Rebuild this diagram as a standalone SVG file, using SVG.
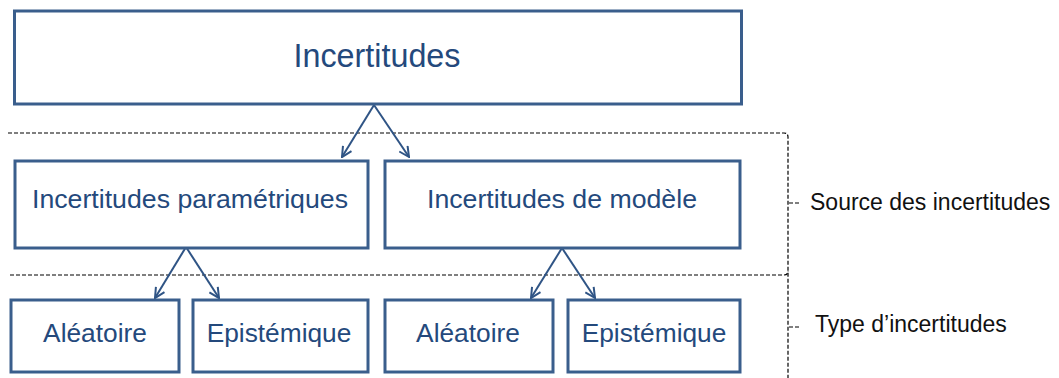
<svg xmlns="http://www.w3.org/2000/svg" width="1059" height="378" viewBox="0 0 1059 378">
<style>
.box{fill:#fff;stroke:#3a5e8c;stroke-width:3}
.lbl{font-family:"Liberation Sans",Arial,sans-serif;fill:#24497c;text-anchor:middle}
.conn{stroke:#2f5485;stroke-width:2;fill:none}
.dash{stroke:#000;stroke-width:1.2;fill:none;stroke-dasharray:4 2}
.side{font-family:"Liberation Sans",Arial,sans-serif;fill:#111;font-size:23px}
</style>
<defs>
<marker id="arr" viewBox="0 0 12 12" refX="11" refY="6" markerWidth="12" markerHeight="12" markerUnits="userSpaceOnUse" orient="auto">
<path d="M1,1 L11,6 L1,11" fill="none" stroke="#2f5485" stroke-width="2"/>
</marker>
</defs>
<g id="brackets">
<path class="dash" d="M8,133 H784 Q788,133 788,137 V378"/>
<path class="dash" d="M10,275 H784 Q788,275 788,271"/>
<path class="dash" d="M789,203 H801"/>
<path class="dash" d="M789,327 H801"/>
</g>
<g id="connectors">
<line class="conn" x1="374" y1="105" x2="342" y2="157" marker-end="url(#arr)"/>
<line class="conn" x1="374" y1="105" x2="409" y2="157" marker-end="url(#arr)"/>
<line class="conn" x1="186" y1="247" x2="155" y2="298" marker-end="url(#arr)"/>
<line class="conn" x1="186" y1="247" x2="219" y2="298" marker-end="url(#arr)"/>
<line class="conn" x1="562" y1="248" x2="531" y2="298" marker-end="url(#arr)"/>
<line class="conn" x1="562" y1="248" x2="595" y2="298" marker-end="url(#arr)"/>
</g>
<g id="incertitudes">
<rect class="box" x="14.5" y="11" width="727" height="93"/>
<text class="lbl" x="377" y="67" font-size="32.3">Incertitudes</text>
</g>
<g id="parametriques">
<rect class="box" x="15" y="161" width="353" height="87"/>
<text class="lbl" x="190" y="208" font-size="26.7">Incertitudes paramétriques</text>
</g>
<g id="modele">
<rect class="box" x="385" y="161" width="355" height="87"/>
<text class="lbl" x="562" y="208" font-size="26.7">Incertitudes de modèle</text>
</g>
<g id="aleatoire1">
<rect class="box" x="11" y="300" width="168" height="72"/>
<text class="lbl" x="95" y="342" font-size="26.3">Aléatoire</text>
</g>
<g id="epistemique1">
<rect class="box" x="193" y="300" width="175" height="72"/>
<text class="lbl" x="279" y="342" font-size="26.3">Epistémique</text>
</g>
<g id="aleatoire2">
<rect class="box" x="385" y="300" width="168" height="72"/>
<text class="lbl" x="468" y="342" font-size="26.3">Aléatoire</text>
</g>
<g id="epistemique2">
<rect class="box" x="568" y="300" width="172" height="72"/>
<text class="lbl" x="654" y="342" font-size="26.3">Epistémique</text>
</g>
<g id="labels">
<text class="side" x="810" y="210">Source des incertitudes</text>
<text class="side" x="815" y="332">Type d’incertitudes</text>
</g>
</svg>
